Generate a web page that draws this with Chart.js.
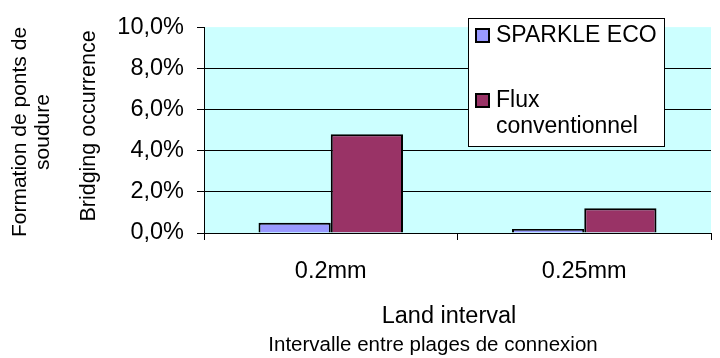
<!DOCTYPE html>
<html>
<head>
<meta charset="utf-8">
<script src="https://cdn.jsdelivr.net/npm/chart.js@4"></script>
<style>
  html, body { margin: 0; padding: 0; background: #fff; }
  #wrap { width: 720px; height: 358px; }
</style>
</head>
<body>
<div id="wrap"><canvas id="chart" width="720" height="358"></canvas></div>
<script>
// data (percent)
const categories = ['0.2mm', '0.25mm'];
const sparkleEco = [0.5, 0.2];
const fluxConv = [4.8, 1.2];
const seriesNames = ['SPARKLE ECO', ['Flux', 'conventionnel']];
const yTicks = [0, 2, 4, 6, 8, 10];

const FONT = '"Liberation Sans", Arial, sans-serif';

// cyan plot background, axis titles and the boxed legend
const decor = {
    id: 'decor',
    beforeDraw(chart) {
        const a = chart.chartArea, ctx = chart.ctx;
        ctx.save();
        ctx.fillStyle = '#CCFFFF';
        ctx.fillRect(a.left, a.top, a.right - a.left, a.bottom - a.top);
        ctx.restore();
    },
    afterDraw(chart) {
        const ctx = chart.ctx;
        ctx.save();
        ctx.fillStyle = '#000';
        ctx.textAlign = 'center';
        ctx.textBaseline = 'middle';

        // y titles
        ctx.save();
        ctx.translate(89, 126);
        ctx.rotate(-Math.PI / 2);
        ctx.font = '21.5px ' + FONT;
        ctx.fillText('Bridging occurrence', 0, 0);
        ctx.restore();

        ctx.save();
        ctx.translate(20, 132);
        ctx.rotate(-Math.PI / 2);
        ctx.font = '21px ' + FONT;
        ctx.fillText('Formation de ponts de', 0, 0);
        ctx.fillText('soudure', 0, 23);
        ctx.restore();

        // x titles
        ctx.font = '23.5px ' + FONT;
        ctx.fillText('Land interval', 449, 317);
        ctx.font = '20.5px ' + FONT;
        ctx.fillText('Intervalle entre plages de connexion', 433, 345);

        // legend
        ctx.fillStyle = '#fff';
        ctx.fillRect(468.5, 18.5, 196, 128);
        ctx.strokeStyle = '#000';
        ctx.lineWidth = 1;
        ctx.strokeRect(468.5, 18.5, 196, 128);

        const ds = chart.data.datasets;
        const rows = [36, 101];
        ds.forEach((d, i) => {
            ctx.fillStyle = d.backgroundColor;
            ctx.fillRect(476, rows[i] - 7, 13, 13);
            ctx.lineWidth = 2;
            ctx.strokeStyle = '#000';
            ctx.strokeRect(476, rows[i] - 7, 13, 13);
            ctx.fillStyle = '#000';
            ctx.textAlign = 'left';
            ctx.font = '23px ' + FONT;
            const lines = [].concat(seriesNames[i]);
            lines.forEach((t, k) => ctx.fillText(t, 496, rows[i] + k * 26));
        });
        ctx.restore();
    }
};

const ctx = document.getElementById('chart').getContext('2d');
new Chart(ctx, {
    type: 'bar',
    data: {
        labels: categories,
        datasets: [
            {
                label: 'SPARKLE ECO',
                data: sparkleEco,
                backgroundColor: '#9999FF',
                borderColor: '#000',
                borderWidth: 2
            },
            {
                label: 'Flux conventionnel',
                data: fluxConv,
                backgroundColor: '#993366',
                borderColor: '#000',
                borderWidth: 2
            }
        ]
    },
    options: {
        responsive: false,
        animation: false,
        layout: { padding: { left: 0, right: 9, top: 19, bottom: 0 } },
        datasets: { bar: { categoryPercentage: 0.57, barPercentage: 1.0 } },
        plugins: {
            legend: { display: false },
            tooltip: { enabled: false }
        },
        scales: {
            x: {
                grid: {
                    offset: true,
                    drawOnChartArea: false,
                    color: '#000',
                    tickLength: 7
                },
                border: { color: '#000', width: 1 },
                ticks: { color: '#000', padding: 17, font: { family: FONT, size: 23.5 } },
                afterFit: s => { s.height = 358 - 233; }
            },
            y: {
                min: 0,
                max: 10,
                afterBuildTicks: s => { s.ticks = yTicks.map(v => ({ value: v })); },
                grid: {
                    color: c => (c.tick && (c.tick.value === 10 || c.tick.value === 0)) ? 'rgba(0,0,0,0)' : '#000',
                    tickColor: '#000',
                    tickLength: 7
                },
                border: { color: '#000', width: 1 },
                ticks: {
                    color: '#000',
                    padding: 13,
                    font: { family: FONT, size: 23.5 },
                    callback: v => v.toFixed(1).replace('.', ',') + '%'
                },
                afterFit: s => { s.width = 204; }
            }
        }
    },
    plugins: [decor]
});
</script>
</body>
</html>
